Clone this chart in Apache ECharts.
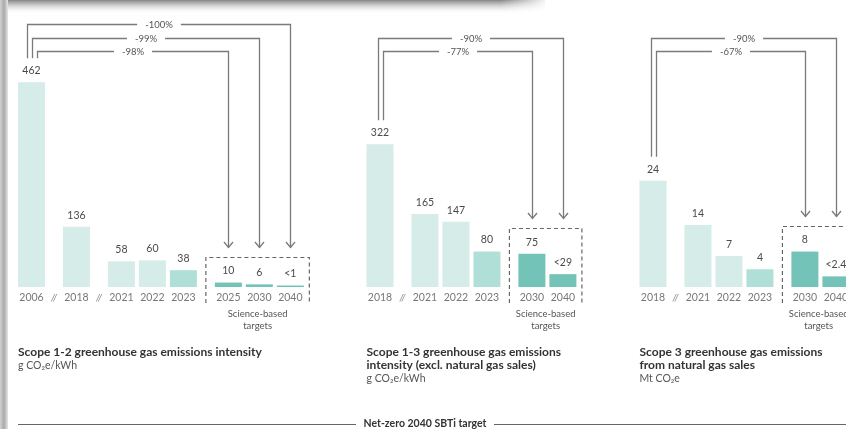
<!DOCTYPE html>
<html>
<head>
<meta charset="utf-8">
<script src="https://cdn.jsdelivr.net/npm/echarts@6/dist/echarts.min.js"></script>
<style>
html, body { margin: 0; padding: 0; background: #fff; }
#main { width: 846px; height: 429px; }
</style>
</head>
<body>
<div id="main"></div>
<script>
// ---------- data ----------
// panel 1 : scope 1-2 intensity
var years1 = ['2006', '2018', '2021', '2022', '2023', '2025', '2030', '2040'];
var values1 = [462, 136, 58, 60, 38, 10, 6, 1];
var labels1 = ['462', '136', '58', '60', '38', '10', '6', '<1'];
var slashBefore1 = [1, 2];
var targetStart1 = 5;
var cuts1 = ['-100%', '-99%', '-98%'];
var cutTo1 = ['2040', '2030', '2025'];
var title1 = ['Scope 1-2 greenhouse gas emissions intensity'];
var unit1 = 'g CO₂e/kWh';

// panel 2 : scope 1-3 intensity
var years2 = ['2018', '2021', '2022', '2023', '2030', '2040'];
var values2 = [322, 165, 147, 80, 75, 29];
var labels2 = ['322', '165', '147', '80', '75', '<29'];
var slashBefore2 = [1];
var targetStart2 = 4;
var cuts2 = ['-90%', '-77%'];
var cutTo2 = ['2040', '2030'];
var title2 = ['Scope 1-3 greenhouse gas emissions', 'intensity (excl. natural gas sales)'];
var unit2 = 'g CO₂e/kWh';

// panel 3 : scope 3 natural gas sales
var years3 = ['2018', '2021', '2022', '2023', '2030', '2040'];
var values3 = [24, 14, 7, 4, 8, 2.4];
var labels3 = ['24', '14', '7', '4', '8', '<2.4'];
var slashBefore3 = [1];
var targetStart3 = 4;
var cuts3 = ['-90%', '-67%'];
var cutTo3 = ['2040', '2030'];
var title3 = ['Scope 3 greenhouse gas emissions', 'from natural gas sales'];
var unit3 = 'Mt CO₂e';

var footer = 'Net-zero 2040 SBTi target';
var targetNote = 'Science-based\ntargets';

// ---------- layout ----------
var FONT = 'Lato, "Noto Sans", sans-serif';
var SLOT = 31;        // px between neighbouring bars
var GAP = 0.45;       // extra slot at a break
var BAR_W = 27;
var GRID_TOP = 30, GRID_H = 257;
var C_HIST = '#d5ece8', C_LAST = '#b0dfd8', C_TARGET = '#74c3b8';
var LINE = '#7a7a7a';

var panels = [
    { years: years1, values: values1, labels: labels1, slash: slashBefore1, tStart: targetStart1,
      cuts: cuts1, cutTo: cutTo1, title: title1, unit: unit1, left: 16, yMax: 580 },
    { years: years2, values: values2, labels: labels2, slash: slashBefore2, tStart: targetStart2,
      cuts: cuts2, cutTo: cutTo2, title: title2, unit: unit2, left: 364.5, yMax: 580 },
    { years: years3, values: values3, labels: labels3, slash: slashBefore3, tStart: targetStart3,
      cuts: cuts3, cutTo: cutTo3, title: title3, unit: unit3, left: 637.5, yMax: 58 }
];

// slot position of every bar (breaks add a little room)
panels.forEach(function (p) {
    var pos = [], x = 0;
    p.years.forEach(function (y, i) {
        if (i > 0) {
            x += 1;
            if (p.slash.indexOf(i) >= 0 || i === p.tStart) x += GAP;
        }
        pos.push(x);
    });
    p.pos = pos;
});

var grids = [], xAxes = [], yAxes = [], series = [];
panels.forEach(function (p, pi) {
    // keep the grid inside the canvas, the last bar may run past its edge
    var xMax = p.pos[p.pos.length - 1] + 0.2;
    grids.push({ left: p.left, top: GRID_TOP, width: (xMax + 0.5) * SLOT, height: GRID_H });
    xAxes.push({ type: 'value', gridIndex: pi, min: -0.5, max: xMax, show: false });
    yAxes.push({ type: 'value', gridIndex: pi, min: 0, max: p.yMax, show: false });

    series.push({
        type: 'bar',
        xAxisIndex: pi, yAxisIndex: pi,
        barWidth: BAR_W,
        barMinHeight: 1.5,
        silent: true,
        label: {
            show: true, position: 'top', distance: 6,
            fontFamily: FONT, fontSize: 10.5, color: '#4a4a4a'
        },
        data: p.values.map(function (v, i) {
            var c = i >= p.tStart ? C_TARGET : (i === p.tStart - 1 ? C_LAST : C_HIST);
            return { value: [p.pos[i], v], itemStyle: { color: c }, label: { formatter: p.labels[i] } };
        })
    });

    // year labels under the bars
    series.push({
        type: 'scatter',
        xAxisIndex: pi, yAxisIndex: pi,
        symbolSize: 1, silent: true,
        itemStyle: { color: 'rgba(0,0,0,0)' },
        label: {
            show: true, position: 'bottom', distance: 5,
            fontFamily: FONT, fontSize: 10.5, color: '#555',
            formatter: function (d) { return d.name; }
        },
        data: p.years.map(function (y, i) { return { name: y, value: [p.pos[i], 0] }; })
    });

    // axis break marks
    series.push({
        type: 'scatter',
        xAxisIndex: pi, yAxisIndex: pi,
        symbolSize: 1, silent: true,
        itemStyle: { color: 'rgba(0,0,0,0)' },
        label: {
            show: true, position: 'bottom', distance: 5,
            fontFamily: FONT, fontSize: 9.5, fontStyle: 'italic', color: '#666',
            formatter: '//'
        },
        data: p.slash.map(function (i) { return [(p.pos[i - 1] + p.pos[i]) / 2, 0]; })
    });
});

var dom = document.getElementById('main');
var myChart = echarts.init(dom);
var option = {
    animation: false,
    backgroundColor: '#fff',
    grid: grids,
    xAxis: xAxes,
    yAxis: yAxes,
    series: series
};
myChart.setOption(option);

// ---------- annotations (placed with the chart's own scales) ----------
var g = [];

// paper edge / shadow of the scanned page
g.push({ type: 'rect', shape: { x: 0, y: 0, width: 545, height: 14 }, silent: true,
    style: { fill: new echarts.graphic.LinearGradient(0, 0, 0, 1, [
        { offset: 0, color: 'rgba(110,110,110,0.85)' },
        { offset: 0.5, color: 'rgba(190,190,190,0.5)' },
        { offset: 1, color: 'rgba(255,255,255,0)' }]) } });
g.push({ type: 'rect', shape: { x: 500, y: 0, width: 50, height: 16 }, silent: true,
    style: { fill: new echarts.graphic.LinearGradient(0, 0, 1, 0, [
        { offset: 0, color: 'rgba(255,255,255,0)' },
        { offset: 1, color: 'rgba(255,255,255,1)' }]) } });
g.push({ type: 'rect', shape: { x: 0, y: 0, width: 8, height: 429 }, silent: true,
    style: { fill: new echarts.graphic.LinearGradient(0, 0, 1, 0, [
        { offset: 0, color: '#d2d2d2' },
        { offset: 0.5, color: '#a9a9a9' },
        { offset: 1, color: '#e6e6e6' }]) } });

panels.forEach(function (p, pi) {
    function px(x, y) { return myChart.convertToPixel({ gridIndex: pi }, [x, y]); }
    function idx(year) { return p.years.indexOf(year); }

    var src = px(p.pos[0], p.values[0]);
    var base = px(0, 0)[1];

    // dashed box round the targets
    var tTop = Infinity;
    for (var i = p.tStart; i < p.values.length; i++) {
        tTop = Math.min(tTop, px(p.pos[i], p.values[i])[1]);
    }
    var boxTop = Math.round(tTop - 26) + 0.5;
    var boxL = (px(p.pos[p.tStart - 1], 0)[0] + px(p.pos[p.tStart], 0)[0]) / 2;
    var boxR = px(p.pos[p.pos.length - 1], 0)[0] + 19;
    var boxB = base + 16;
    g.push({ type: 'polyline', silent: true,
        shape: { points: [[boxL, boxB], [boxL, boxTop], [boxR, boxTop], [boxR, boxB]] },
        style: { stroke: '#666', lineWidth: 1.2, lineDash: [4, 3], fill: null } });
    g.push({ type: 'text', silent: true, x: (boxL + boxR) / 2, y: base + 21,
        style: { text: targetNote, fontFamily: FONT, fontSize: 9.5, lineHeight: 12,
                 fill: '#555', align: 'center', verticalAlign: 'top' } });

    // reduction brackets
    var n = p.cuts.length;
    p.cuts.forEach(function (txt, k) {
        var ly = Math.round(51 - (n - 1 - k) * 13.5) + 0.5;
        var lx = Math.round(src[0] + (k - (n - 1) / 2) * 5 + 0.5) + 0.5;
        var rx = Math.round(px(p.pos[idx(p.cutTo[k])], 0)[0]) + 0.5;
        var tip = boxTop - 10;
        g.push({ type: 'polyline', silent: true,
            shape: { points: [[lx, src[1] - 24], [lx, ly], [rx, ly], [rx, tip]] },
            style: { stroke: LINE, lineWidth: 1.3, fill: null } });
        g.push({ type: 'polyline', silent: true,
            shape: { points: [[rx - 4.5, tip - 5.5], [rx, tip], [rx + 4.5, tip - 5.5]] },
            style: { stroke: LINE, lineWidth: 1.3, fill: null } });
        g.push({ type: 'text', silent: true, x: (lx + rx) / 2, y: ly,
            style: { text: txt, fontFamily: FONT, fontSize: 9.5, fill: '#555',
                     align: 'center', verticalAlign: 'middle',
                     backgroundColor: '#fff', padding: [1, 8] } });
    });

    // panel title and unit
    var tx = src[0] - BAR_W / 2;
    g.push({ type: 'text', silent: true, x: tx, y: 346,
        style: { text: p.title.join('\n'), fontFamily: FONT, fontSize: 12, fontWeight: 'bold',
                 lineHeight: 12.5, fill: '#333', align: 'left', verticalAlign: 'top' } });
    g.push({ type: 'text', silent: true, x: tx, y: 347 + p.title.length * 12.5 + 1,
        style: { text: p.unit, fontFamily: FONT, fontSize: 10.5, fill: '#555',
                 align: 'left', verticalAlign: 'top' } });
});

// footer rule
g.push({ type: 'line', silent: true, shape: { x1: 18, y1: 424.5, x2: 356, y2: 424.5 },
    style: { stroke: '#666', lineWidth: 1.2 } });
g.push({ type: 'line', silent: true, shape: { x1: 494, y1: 424.5, x2: 846, y2: 424.5 },
    style: { stroke: '#666', lineWidth: 1.2 } });
g.push({ type: 'text', silent: true, x: 425, y: 424,
    style: { text: footer, fontFamily: FONT, fontSize: 10.5, fontWeight: 'bold', fill: '#333',
             align: 'center', verticalAlign: 'middle' } });

myChart.setOption({ graphic: g });
</script>
</body>
</html>
